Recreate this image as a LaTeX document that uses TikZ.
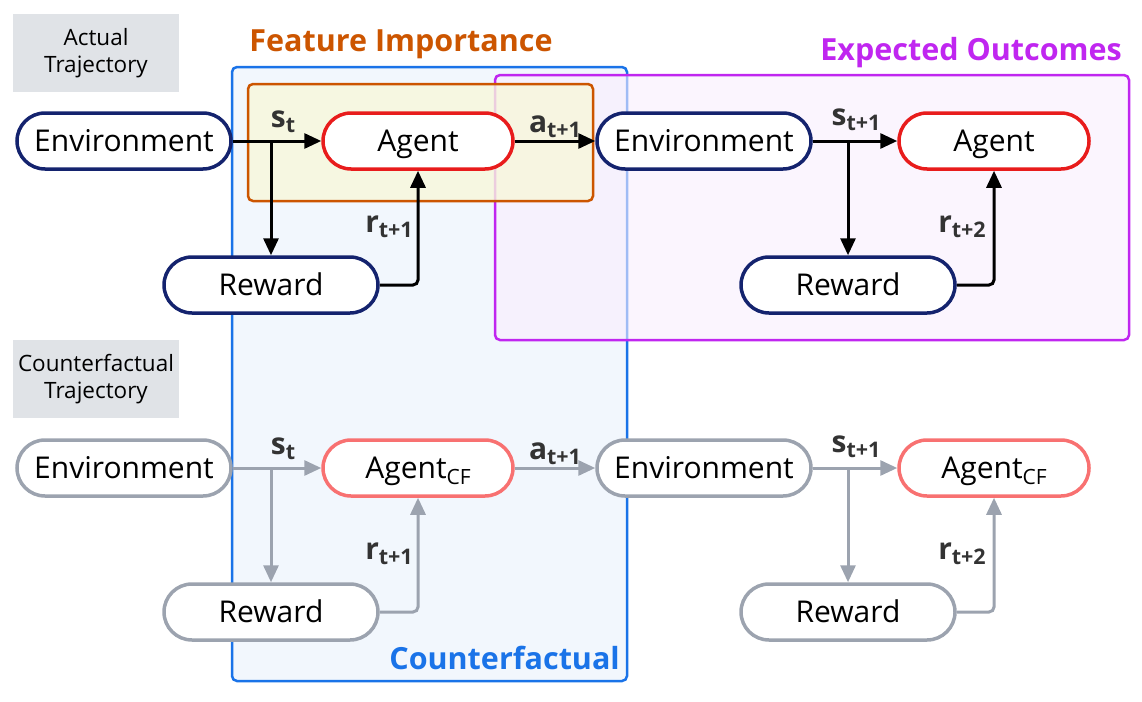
\documentclass[tikz,border=0pt]{standalone}
\usepackage{fontspec}
\setmainfont{Open Sans}
\usetikzlibrary{arrows.meta}
\definecolor{navy}{HTML}{14236E}
\definecolor{agred}{HTML}{E81C1C}
\definecolor{cfred}{HTML}{F87171}
\definecolor{cgray}{HTML}{9CA3AF}
\definecolor{lblgray}{HTML}{E0E3E7}
\definecolor{bluebd}{HTML}{1A73E8}
\definecolor{bluefill}{HTML}{F2F7FD}
\definecolor{orgbd}{HTML}{CC5500}
\definecolor{orgfill}{HTML}{F8F7DA}
\definecolor{purbd}{HTML}{C026F0}
\definecolor{purfill}{HTML}{F9EEFE}
\definecolor{lbltxt}{HTML}{333333}
\newcommand{\sublbl}[2]{{\fontsize{30}{32}\selectfont\bfseries #1\raisebox{-0.3ex}{\fontsize{21.5}{23}\selectfont #2}}}
\newcommand{\agcf}{Agent\raisebox{-0.35ex}{\fontsize{21}{22}\selectfont CF}}
\tikzset{
  pill/.style={draw, fill=white, rounded corners=28pt, line width=3.5pt, minimum height=56pt,
    inner sep=0pt, font=\fontsize{30}{34}\selectfont, text=black, text height=24pt, text depth=3pt},
  envA/.style={pill, draw=navy, minimum width=214pt},
  agA/.style={pill, draw=agred, minimum width=190pt},
  envC/.style={pill, draw=cgray, minimum width=214pt},
  agC/.style={pill, draw=cfred, minimum width=190pt},
  arrA/.style={draw=black, line width=3pt, -{Triangle[length=17pt,width=15pt]}},
  lineA/.style={draw=black, line width=3pt, rounded corners=5pt, -{Triangle[length=17pt,width=15pt]}},
  arrC/.style={draw=cgray, line width=3pt, -{Triangle[length=17pt,width=15pt]}},
  lineC/.style={draw=cgray, line width=3pt, rounded corners=5pt, -{Triangle[length=17pt,width=15pt]}},
  lbl/.style={text=lbltxt, inner sep=0pt},
  trajbox/.style={fill=lblgray, minimum width=166pt, minimum height=78pt, align=center,
    font=\fontsize{22.5}{27}\selectfont, text=black, inner sep=0pt},
  title/.style={font=\fontsize{30.5}{33}\selectfont\bfseries, inner sep=0pt}
}
\begin{document}
\begin{tikzpicture}[x=1pt,y=-1pt]
\useasboundingbox (0,0) rectangle (1142,701);
% background boxes
\draw[bluebd, fill=bluefill, line width=2.5pt, rounded corners=5pt] (232,67) rectangle (627,681);
\draw[purbd, line width=2.5pt, rounded corners=5pt, fill=purfill, fill opacity=0.6] (495,75) rectangle (1129,340);
\draw[orgbd, line width=2.5pt, rounded corners=5pt, fill=orgfill, fill opacity=0.8] (248,84) rectangle (593,201);
% titles
\node[title, text=orgbd] (tfi) at (401,44) {Feature Importance};
\node[title, text=purbd, anchor=east] (teo) at (1122,53) {Expected Outcomes};
\node[title, text=bluebd, anchor=east] (tcf) at (620,658) {Counterfactual};
% trajectory labels
\node[trajbox] (lact) at (96,53) {Actual\\Trajectory};
\node[trajbox] (lcf) at (96,379) {Counterfactual\\Trajectory};
% actual row
\node[envA] (e1) at (124,141) {Environment};
\node[agA] (a1) at (418,141) {Agent};
\node[envA] (r1) at (271,285) {Reward};
\node[envA] (e2) at (704,141) {Environment};
\node[agA] (a2) at (994,141) {Agent};
\node[envA] (r2) at (848,285) {Reward};
\coordinate (b1) at (r1.north |- e1.east);
\coordinate (b2) at (r2.north |- e2.east);
\draw[arrA] (e1.east) -- (a1.west);
\draw[arrA] (b1) -- (r1.north);
\draw[lineA] (r1.east) -| (a1.south);
\draw[arrA] (a1.east) -- (e2.west);
\draw[arrA] (e2.east) -- (a2.west);
\draw[arrA] (b2) -- (r2.north);
\draw[lineA] (r2.east) -| (a2.south);
\node[lbl] (ls1) at (283,122) {\sublbl{s}{t}};
\node[lbl] (la1) at (555,127) {\sublbl{a}{t+1}};
\node[lbl] (lr1) at (389,227) {\sublbl{r}{t+1}};
\node[lbl] (ls2) at (856,120) {\sublbl{s}{t+1}};
\node[lbl] (lr2) at (962,227) {\sublbl{r}{t+2}};
% counterfactual row
\node[envC] (e3) at (124,468) {Environment};
\node[agC] (a3) at (418,468) {\agcf};
\node[envC] (r3) at (271,612) {Reward};
\node[envC] (e4) at (704,468) {Environment};
\node[agC] (a4) at (994,468) {\agcf};
\node[envC] (r4) at (848,612) {Reward};
\coordinate (b3) at (r3.north |- e3.east);
\coordinate (b4) at (r4.north |- e4.east);
\draw[arrC] (e3.east) -- (a3.west);
\draw[arrC] (b3) -- (r3.north);
\draw[lineC] (r3.east) -| (a3.south);
\draw[arrC] (a3.east) -- (e4.west);
\draw[arrC] (e4.east) -- (a4.west);
\draw[arrC] (b4) -- (r4.north);
\draw[lineC] (r4.east) -| (a4.south);
\node[lbl] (ls3) at (283,449) {\sublbl{s}{t}};
\node[lbl] (la3) at (555,454) {\sublbl{a}{t+1}};
\node[lbl] (lr3) at (389,554) {\sublbl{r}{t+1}};
\node[lbl] (ls4) at (856,447) {\sublbl{s}{t+1}};
\node[lbl] (lr4) at (962,554) {\sublbl{r}{t+2}};
\end{tikzpicture}
\end{document}
